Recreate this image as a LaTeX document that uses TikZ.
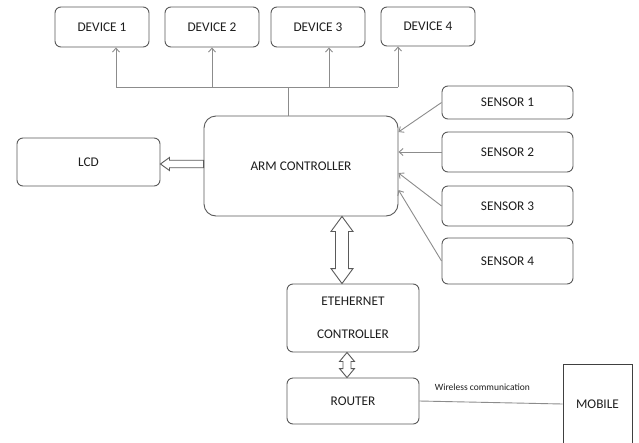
\documentclass[tikz,border=0pt]{standalone}
\usepackage{fontspec}
\setmainfont{Carlito}
\usetikzlibrary{arrows.meta,calc}
\definecolor{boxgray}{HTML}{5A5A5A}
\definecolor{linegray}{HTML}{8C8C8C}
\definecolor{txt}{HTML}{1E1E1E}
\begin{document}
\begin{tikzpicture}[x=1pt,y=-1pt,
  blk/.style={draw=boxgray,line width=0.9pt,rounded corners=6pt,inner sep=0pt,font=\fontsize{13.3}{15}\selectfont,text=txt},
  conn/.style={draw=linegray,line width=0.9pt,-{Straight Barb[length=4pt,width=7pt]}},
  plain/.style={draw=linegray,line width=0.9pt},
  hollow/.style={draw=boxgray,line width=0.9pt,fill=white,line join=miter}]
\path[use as bounding box, fill=white] (0,0) rectangle (639,442);

% devices
\node[blk,minimum width=94pt,minimum height=40pt] (d1) at (102,27) {DEVICE 1};
\node[blk,minimum width=94pt,minimum height=40pt] (d2) at (212,27) {DEVICE 2};
\node[blk,minimum width=94pt,minimum height=40pt] (d3) at (318,27) {DEVICE 3};
\node[blk,minimum width=94pt,minimum height=39pt] (d4) at (428,26.5) {DEVICE 4};

% controller and LCD
\node[blk,rounded corners=12pt,minimum width=194pt,minimum height=100pt] (arm) at (301,166) {ARM CONTROLLER};
\node[blk,minimum width=143pt,minimum height=48pt] (lcd) at (88.5,162) {LCD};

% sensors
\node[blk,minimum width=131pt,minimum height=33pt] (s1) at (507.5,102.5) {SENSOR 1};
\node[blk,minimum width=131pt,minimum height=40pt] (s2) at (507.5,152) {SENSOR 2};
\node[blk,minimum width=131pt,minimum height=40pt] (s3) at (507.5,206) {SENSOR 3};
\node[blk,minimum width=131pt,minimum height=46pt] (s4) at (507.5,261) {SENSOR 4};

% ethernet, router, mobile
\node[blk,align=center,minimum width=132pt,minimum height=68pt] (eth) at (353,318) {ETEHERNET\\[18pt]CONTROLLER};
\node[blk,minimum width=132pt,minimum height=46pt] (router) at (353,401) {ROUTER};
\node[blk,rounded corners=0pt,draw=black!75,minimum width=69pt,minimum height=80pt] (mobile) at (597.5,404) {MOBILE};

% bus to devices
\coordinate (stem) at ($(arm.north)+(-13,0)$);
\coordinate (bm) at (288,87);
\coordinate (b1) at (116,87);
\coordinate (b2) at (212,87);
\coordinate (b3) at (329,87);
\coordinate (b4) at (398,87);
\draw[plain] (stem) -- (bm);
\draw[plain] (b1) -- (b4);
\draw[conn] (b1) -- (b1 |- d1.south);
\draw[conn] (b2) -- (b2 |- d2.south);
\draw[conn] (b3) -- (b3 |- d3.south);
\draw[conn] (b4) -- (b4 |- d4.south);

% sensors to controller
\draw[conn] (s1.west) -- ($(arm.east)+(0,-34)$);
\draw[conn] (s2.west) -- ($(arm.east)+(0,-14)$);
\draw[conn] (s3.west) -- ($(arm.east)+(0,7)$);
\draw[conn] (s4.west) -- ($(arm.east)+(0,24)$);

% hollow arrow to LCD
\coordinate (lt) at ($(lcd.east)+(0,2)$);
\coordinate (la) at (lt -| arm.west);
\draw[hollow] (lt) -- ++(9,-6.5) -- ++(0,2.75) -- ($(la)+(0,-3.75)$) -- ($(la)+(0,3.75)$) -- ($(lt)+(9,3.75)$) -- ++(0,2.75) -- cycle;

% double arrow controller <-> ethernet
\coordinate (ea) at ($(arm.south)+(41,0)$);
\coordinate (eb) at (ea |- eth.north);
\draw[hollow] (ea) -- ++(11,15) -- ++(-4.5,0) -- ($(eb)+(6.5,-15)$) -- ++(4.5,0) -- (eb) -- ++(-11,-15) -- ++(4.5,0) -- ($(ea)+(-6.5,15)$) -- ++(-4.5,0) -- cycle;

% double arrow ethernet <-> router
\coordinate (ra) at ($(eth.south)+(-6,0)$);
\coordinate (rb) at (ra |- router.north);
\draw[hollow] (ra) -- ++(7.5,9) -- ++(-3.5,0) -- ($(rb)+(4,-9)$) -- ++(3.5,0) -- (rb) -- ++(-7.5,-9) -- ++(3.5,0) -- ($(ra)+(-4,9)$) -- ++(-3.5,0) -- cycle;

% wireless link
\draw[plain] (router.east) -- (mobile.west) node[pos=0.44,above=11pt,inner sep=0pt,text=txt,font=\fontsize{9.5}{11}\selectfont] (wl) {Wireless communication};
\end{tikzpicture}
\end{document}
